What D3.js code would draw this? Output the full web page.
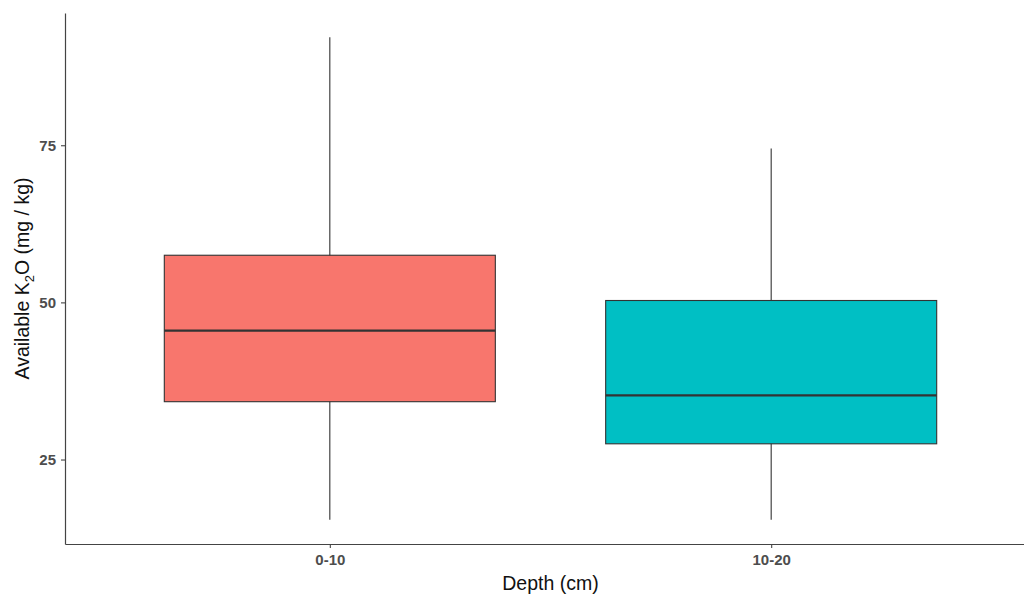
<!DOCTYPE html>
<html>
<head>
<meta charset="utf-8">
<style>
  body { margin: 0; background: #fff; }
  text { font-family: "Liberation Sans", Arial, sans-serif; }
</style>
</head>
<body>
<svg></svg>
<script src="https://cdn.jsdelivr.net/npm/d3@7"></script>
<script>

var width = 1024,
    height = 594;

// data
var depths = ["0-10", "10-20"];
var fills = ["#F8766D", "#00BFC4"];
var whiskerLow = [15.4, 15.4];
var q1 = [34.2, 27.5];
var median = [45.5, 35.2];
var q3 = [57.5, 50.3];
var whiskerHigh = [92.2, 74.5];
var yTicks = [25, 50, 75];

var boxes = depths.map(function(d, i) {
  return { depth: d, pos: i + 1, fill: fills[i], lo: whiskerLow[i], q1: q1[i],
           med: median[i], q3: q3[i], hi: whiskerHigh[i] };
});

var svg = d3.select("svg")
    .attr("width", width)
    .attr("height", height);

// panel edges (names avoid window.top)
var pLeft = 65, pRight = 1036, pTop = 13, pBottom = 544;

// discrete axis like ggplot: positions 1..n, expanded 0.6 each side
var x = d3.scaleLinear()
    .domain([0.4, depths.length + 0.6])
    .range([pLeft, pRight]);

var lo = d3.min(whiskerLow), hi = d3.max(whiskerHigh), pad = (hi - lo) * 0.05;
var y = d3.scaleLinear()
    .domain([lo - pad, hi + pad])
    .range([pBottom, pTop]);

var boxW = x(1.375) - x(1);

var g = svg.append("g");

// whiskers
g.selectAll(".whisker")
  .data(boxes)
  .enter()
  .append("line")
  .attr("x1", function(d) { return x(d.pos); })
  .attr("x2", function(d) { return x(d.pos); })
  .attr("y1", function(d) { return y(d.lo); })
  .attr("y2", function(d) { return y(d.hi); })
  .attr("stroke", "#333")
  .attr("stroke-width", 1.1);

// boxes
g.selectAll(".box")
  .data(boxes)
  .enter()
  .append("rect")
  .attr("x", function(d) { return x(d.pos) - boxW; })
  .attr("width", boxW * 2)
  .attr("y", function(d) { return y(d.q3); })
  .attr("height", function(d) { return y(d.q1) - y(d.q3); })
  .attr("fill", function(d) { return d.fill; })
  .attr("stroke", "#333")
  .attr("stroke-width", 1.1);

// medians
g.selectAll(".median")
  .data(boxes)
  .enter()
  .append("line")
  .attr("x1", function(d) { return x(d.pos) - boxW; })
  .attr("x2", function(d) { return x(d.pos) + boxW; })
  .attr("y1", function(d) { return y(d.med); })
  .attr("y2", function(d) { return y(d.med); })
  .attr("stroke", "#333")
  .attr("stroke-width", 2.2);

// axes
var yAxis = svg.append("g")
    .attr("transform", "translate(" + pLeft + ",0)")
    .call(d3.axisLeft(y).tickValues(yTicks).tickSize(4).tickSizeOuter(0).tickPadding(5));

var xAxis = svg.append("g")
    .attr("transform", "translate(0," + pBottom + ")")
    .call(d3.axisBottom(x).tickValues(boxes.map(function(d) { return d.pos; }))
      .tickFormat(function(d) { return depths[d - 1]; })
      .tickSize(4).tickSizeOuter(0).tickPadding(6));

[yAxis, xAxis].forEach(function(a) {
  a.select(".domain").attr("stroke", "#444").attr("stroke-width", 1.2);
  a.selectAll(".tick line").attr("stroke", "#444").attr("stroke-width", 1.1);
  a.selectAll(".tick text")
    .attr("fill", "#4d4d4d")
    .style("font-size", "15px")
    .style("font-weight", "bold")
    .style("font-family", "'Liberation Sans', Arial, sans-serif");
});

// axis titles
svg.append("text")
  .attr("x", (pLeft + pRight) / 2)
  .attr("y", 590)
  .attr("text-anchor", "middle")
  .style("font-size", "19.5px")
  .attr("fill", "#111")
  .text("Depth (cm)");

var yt = svg.append("text")
  .attr("transform", "translate(29," + ((pTop + pBottom) / 2) + ") rotate(-90)")
  .attr("text-anchor", "middle")
  .style("font-size", "19.5px")
  .attr("fill", "#111");
yt.append("tspan").text("Available K");
yt.append("tspan").attr("dy", 5).style("font-size", "13px").text("2");
yt.append("tspan").attr("dy", -5).text("O (mg / kg)");

</script>
</body>
</html>
